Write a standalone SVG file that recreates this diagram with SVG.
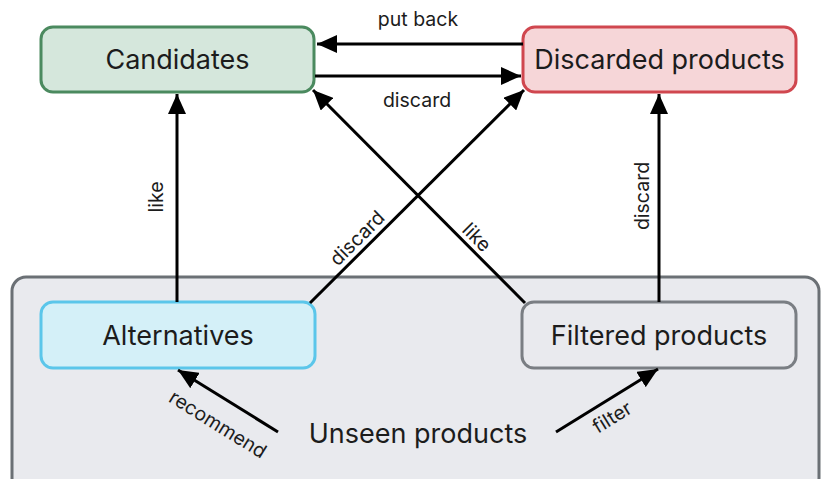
<svg xmlns="http://www.w3.org/2000/svg" width="822" height="479" viewBox="0 0 822 479">
<style>
.node text{font-family:Inter,"Liberation Sans",sans-serif;font-size:27px;fill:#1c1c1c;text-anchor:middle;dominant-baseline:central}
.lbl{font-family:Inter,"Liberation Sans",sans-serif;font-size:19.5px;fill:#1c1c1c;text-anchor:middle;dominant-baseline:central}
.edge{stroke:#000;stroke-width:3;fill:none;marker-end:url(#ah)}
</style>
<defs>
<marker id="ah" markerUnits="userSpaceOnUse" markerWidth="22" markerHeight="18" refX="20" refY="9" orient="auto">
<path d="M0,0 L20,9 L0,18 Z" fill="#000"/>
</marker>
</defs>
<rect width="822" height="479" fill="#fff"/>
<g id="unseen" class="node">
<rect x="12" y="277" width="807" height="215" rx="14" fill="#e9eaee" stroke="#6b7075" stroke-width="3"/>
<text x="418" y="433">Unseen products</text>
</g>
<g id="candidates" class="node">
<rect x="41" y="27" width="273" height="65" rx="12" fill="#d5e7dc" stroke="#4b8a5f" stroke-width="3"/>
<text x="177.5" y="59.5">Candidates</text>
</g>
<g id="discarded" class="node">
<rect x="523" y="27" width="273" height="65" rx="12" fill="#f6d6d8" stroke="#d0474f" stroke-width="3"/>
<text x="659.5" y="59.5">Discarded products</text>
</g>
<g id="alternatives" class="node">
<rect x="41" y="302" width="274" height="66" rx="12" fill="#d4f0f8" stroke="#5bc6ea" stroke-width="3"/>
<text x="178" y="335">Alternatives</text>
</g>
<g id="filtered" class="node">
<rect x="522" y="302" width="274" height="66" rx="12" fill="#e9eaee" stroke="#7a7e83" stroke-width="3"/>
<text x="659" y="335">Filtered products</text>
</g>
<g id="connectors">
<line class="edge" x1="523" y1="44" x2="317" y2="44"/>
<text class="lbl" x="418" y="19">put back</text>
<line class="edge" x1="315" y1="76" x2="521" y2="76"/>
<text class="lbl" x="417" y="100">discard</text>
<line class="edge" x1="177" y1="302" x2="177" y2="94"/>
<text class="lbl" transform="translate(156,197) rotate(-90)">like</text>
<line class="edge" x1="659" y1="302" x2="659" y2="94"/>
<text class="lbl" transform="translate(642,196) rotate(-90)">discard</text>
<line class="edge" x1="310" y1="303" x2="524" y2="90"/>
<text class="lbl" transform="translate(357,238) rotate(-45)">discard</text>
<line class="edge" x1="525" y1="303" x2="313" y2="90"/>
<text class="lbl" transform="translate(477,237) rotate(45)">like</text>
<line class="edge" x1="278" y1="432" x2="178" y2="370"/>
<text class="lbl" transform="translate(218,424) rotate(31.8)">recommend</text>
<line class="edge" x1="556" y1="432" x2="658" y2="369"/>
<text class="lbl" transform="translate(612,417) rotate(-31.5)">filter</text>
</g>
</svg>
